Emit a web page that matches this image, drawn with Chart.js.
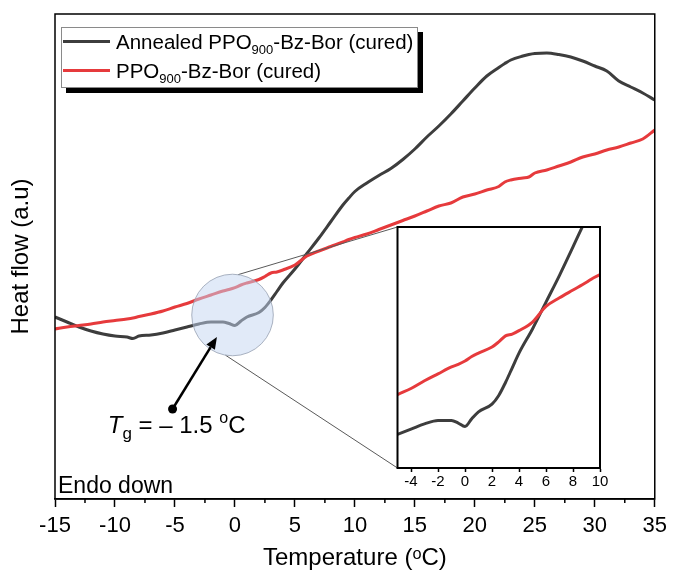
<!DOCTYPE html>
<html>
<head>
<meta charset="utf-8">
<script src="https://cdn.jsdelivr.net/npm/chart.js@4.4.1/dist/chart.umd.min.js"></script>
<style>
  html, body { margin: 0; padding: 0; background: #fff; }
  #wrap { position: relative; width: 673px; height: 573px; overflow: hidden; }
  #main { position: absolute; left: 0; top: 0; }
  #inset { position: absolute; left: 385px; top: 215px; }
</style>
</head>
<body>
<div id="wrap">
  <canvas id="main" width="673" height="573"></canvas>
  <canvas id="inset" width="227" height="285"></canvas>
</div>
<script>
// DSC heating traces, heat flow in arbitrary units
const temperature = [-15,-14,-13,-12,-11,-10,-9,-8.5,-8,-7,-6,-5,-4,-3,-2,-1,-0.5,0,0.5,1,2,2.5,3,3.5,4,5,6,7,8,9,9.5,10,11,12,13,14,15,16,17,18,19,20,21,22,22.5,23,24,24.5,25,26,27,28,29,30,31,32,33,34,35];
const annealedFlow = [18.2,17.7,17.2,16.8,16.5,16.3,16.2,16.05,16.3,16.4,16.6,16.9,17.2,17.5,17.7,17.7,17.55,17.35,17.8,18.2,18.65,19.15,19.9,20.75,21.6,23.0,24.55,26.1,27.75,29.4,30.1,30.75,31.6,32.35,33.05,33.95,35.0,36.2,37.3,38.5,39.8,41.1,42.3,43.15,43.55,43.9,44.3,44.45,44.55,44.6,44.45,44.2,43.8,43.3,42.8,41.8,41.2,40.6,39.9];
const curedFlow = [17.0,17.2,17.35,17.5,17.7,17.85,18.0,18.1,18.25,18.5,18.8,19.2,19.55,20.0,20.4,20.8,20.95,21.14,21.4,21.6,21.95,22.25,22.6,22.7,22.9,23.4,24.3,24.8,25.25,25.7,25.95,26.15,26.5,26.95,27.4,27.85,28.3,28.8,29.3,29.6,30.2,30.5,30.9,31.25,31.7,31.9,32.1,32.2,32.6,32.9,33.3,33.7,34.2,34.5,34.9,35.2,35.6,36.0,36.9];

// series names split as [before subscript, subscript, after subscript]
const annealedName = ['Annealed PPO', '900', '-Bz-Bor (cured)'];
const curedName = ['PPO', '900', '-Bz-Bor (cured)'];

const mainTicks = [-15, -10, -5, 0, 5, 10, 15, 20, 25, 30, 35];
const insetTicks = [-4, -2, 0, 2, 4, 6, 8, 10];

const tgValue = -1.5;   // glass transition, °C

const FONT = '"Liberation Sans", Arial, Helvetica, sans-serif';
const BLACK_LINE = '#3d3d3d';
const RED_LINE = '#e63a3c';

function buildDatasets() {
  return [
    {
      label: annealedName.join(''),
      data: temperature.map((t, i) => ({ x: t, y: annealedFlow[i] })),
      borderColor: BLACK_LINE, borderWidth: 3, pointRadius: 0,
      cubicInterpolationMode: 'monotone', fill: false, order: 1
    },
    {
      label: curedName.join(''),
      data: temperature.map((t, i) => ({ x: t, y: curedFlow[i] })),
      borderColor: RED_LINE, borderWidth: 3, pointRadius: 0,
      cubicInterpolationMode: 'monotone', fill: false, order: 0
    }
  ];
}

// ---------- inset (zoom on the glass transition) ----------
const insetFrame = {
  id: 'insetFrame',
  beforeDatasetsDraw(chart) {
    const { ctx, chartArea: a } = chart;
    ctx.save();
    ctx.fillStyle = '#fff';
    ctx.fillRect(a.left, a.top, a.right - a.left, a.bottom - a.top);
    ctx.restore();
  },
  afterDatasetsDraw(chart) {
    const { ctx, chartArea: a } = chart;
    ctx.save();
    ctx.strokeStyle = '#000';
    ctx.lineWidth = 2;
    ctx.strokeRect(a.left, a.top, a.right - a.left, a.bottom - a.top);
    ctx.restore();
  }
};

const insetCanvas = document.getElementById('inset');
const insetChart = new Chart(insetCanvas, {
  type: 'line',
  data: { datasets: buildDatasets() },
  plugins: [insetFrame],
  options: {
    responsive: false,
    animation: false,
    events: [],
    layout: { padding: { left: 12.5, right: 12, top: 12, bottom: 0 } },
    plugins: { legend: { display: false }, tooltip: { enabled: false } },
    scales: {
      x: {
        type: 'linear', min: -5, max: 10,
        afterBuildTicks: s => { s.ticks = insetTicks.map(v => ({ value: v })); },
        afterFit: s => { s.height = 32; },
        grid: { drawOnChartArea: false, drawTicks: true, tickLength: 4, tickWidth: 1.5, tickColor: '#000' },
        border: { display: true, color: '#000', width: 2 },
        ticks: { color: '#000', font: { family: FONT, size: 15 }, padding: 1, maxRotation: 0, autoSkip: false }
      },
      y: { display: false, min: 14.95, max: 28.9 }
    }
  }
});

// ---------- main chart ----------
function drawRich(ctx, parts, x, y) {
  // parts: [text, size, dy, italic]
  let cx = x;
  for (const [text, size, dy, italic] of parts) {
    ctx.font = (italic ? 'italic ' : '') + size + 'px ' + FONT;
    ctx.fillText(text, cx, y + dy);
    cx += ctx.measureText(text).width;
  }
  return cx;
}

const decorations = {
  id: 'decorations',
  beforeDraw(chart) {
    const { ctx, width, height } = chart;
    ctx.save();
    ctx.fillStyle = '#fff';
    ctx.fillRect(0, 0, width, height);
    ctx.restore();
  },
  afterDatasetsDraw(chart) {
    const { ctx, chartArea: a, scales: { x: xs, y: ys } } = chart;
    ctx.save();

    // frame
    ctx.strokeStyle = '#000';
    ctx.lineWidth = 1.5;
    ctx.strokeRect(a.left, a.top, a.right - a.left, a.bottom - a.top);

    // minor ticks
    ctx.lineWidth = 1.5;
    ctx.beginPath();
    for (let t = -12.5; t < 35; t += 5) {
      const px = xs.getPixelForValue(t);
      ctx.moveTo(px, a.bottom);
      ctx.lineTo(px, a.bottom + 4);
    }
    ctx.stroke();

    // highlighted region around the transition
    const cx = xs.getPixelForValue(-0.2);
    const cy = ys.getPixelForValue(18.4);
    const r = xs.getPixelForValue(3.4) - xs.getPixelForValue(0);

    // connector lines to the inset frame
    const ia = insetChart.chartArea;
    const ox = insetCanvas.offsetLeft, oy = insetCanvas.offsetTop;
    const a1 = -82 * Math.PI / 180, a2 = 100 * Math.PI / 180;
    ctx.strokeStyle = '#5a5a5a';
    ctx.lineWidth = 1;
    ctx.beginPath();
    ctx.moveTo(cx + r * Math.cos(a1), cy + r * Math.sin(a1));
    ctx.lineTo(ox + ia.left, oy + ia.top);
    ctx.moveTo(cx + r * Math.cos(a2), cy + r * Math.sin(a2));
    ctx.lineTo(ox + ia.left, oy + ia.bottom);
    ctx.stroke();

    ctx.beginPath();
    ctx.arc(cx, cy, r, 0, Math.PI * 2);
    ctx.fillStyle = 'rgba(196, 214, 242, 0.5)';
    ctx.fill();
    ctx.strokeStyle = 'rgba(150, 160, 178, 0.8)';
    ctx.lineWidth = 1;
    ctx.stroke();

    // Tg arrow
    const p0 = { x: xs.getPixelForValue(-5.2), y: ys.getPixelForValue(9.0) };
    const p1 = { x: xs.getPixelForValue(tgValue), y: ys.getPixelForValue(16.2) };
    const ang = Math.atan2(p1.y - p0.y, p1.x - p0.x);
    const head = 12, half = 5;
    const bx = p1.x - head * Math.cos(ang), by = p1.y - head * Math.sin(ang);
    ctx.strokeStyle = '#000';
    ctx.fillStyle = '#000';
    ctx.lineWidth = 2.5;
    ctx.beginPath();
    ctx.moveTo(p0.x, p0.y);
    ctx.lineTo(bx, by);
    ctx.stroke();
    ctx.beginPath();
    ctx.moveTo(p1.x, p1.y);
    ctx.lineTo(bx + half * Math.sin(ang), by - half * Math.cos(ang));
    ctx.lineTo(bx - half * Math.sin(ang), by + half * Math.cos(ang));
    ctx.closePath();
    ctx.fill();
    ctx.beginPath();
    ctx.arc(p0.x, p0.y, 4.5, 0, Math.PI * 2);
    ctx.fill();

    // Tg label
    ctx.textBaseline = 'alphabetic';
    ctx.textAlign = 'left';
    const lx = xs.getPixelForValue(-10.6), ly = ys.getPixelForValue(6.6);
    drawRich(ctx, [
      ['T', 24, 0, true],
      ['g', 17, 6, false],
      [' = \u2013 ' + Math.abs(tgValue) + ' ', 24, 0, false],
      ['o', 16, -10, false],
      ['C', 24, 0, false]
    ], lx, ly);

    // Endo direction
    ctx.font = '23px ' + FONT;
    ctx.fillText('Endo down', a.left + 3, a.bottom - 6);

    ctx.restore();
  },
  afterDraw(chart) {
    const { ctx, chartArea: a } = chart;
    ctx.save();
    const box = { x: a.left + 6, y: a.top + 13, w: 357, h: 61 };
    // drop shadow
    ctx.fillStyle = '#000';
    ctx.fillRect(box.x + 5, box.y + 5, box.w, box.h);
    ctx.fillStyle = '#fff';
    ctx.fillRect(box.x, box.y, box.w, box.h);
    ctx.strokeStyle = '#8a8a8a';
    ctx.lineWidth = 1;
    ctx.strokeRect(box.x + 0.5, box.y + 0.5, box.w - 1, box.h - 1);

    const rows = [
      { name: annealedName, color: BLACK_LINE, y: box.y + 14.5 },
      { name: curedName, color: RED_LINE, y: box.y + 43.5 }
    ];
    ctx.textBaseline = 'alphabetic';
    ctx.fillStyle = '#000';
    for (const row of rows) {
      ctx.strokeStyle = row.color;
      ctx.lineWidth = 3;
      ctx.beginPath();
      ctx.moveTo(box.x + 2, row.y);
      ctx.lineTo(box.x + 49, row.y);
      ctx.stroke();
      ctx.fillStyle = '#000';
      drawRich(ctx, [
        [row.name[0], 20.5, 0, false],
        [row.name[1], 13, 5, false],
        [row.name[2], 20.5, 0, false]
      ], box.x + 55, row.y + 7);
    }
    ctx.restore();
  }
};

new Chart(document.getElementById('main'), {
  type: 'line',
  data: { datasets: buildDatasets() },
  plugins: [decorations],
  options: {
    responsive: false,
    animation: false,
    events: [],
    layout: { padding: { left: 0, right: 18, top: 14, bottom: 0 } },
    plugins: { legend: { display: false }, tooltip: { enabled: false } },
    scales: {
      x: {
        type: 'linear', min: -15, max: 35,
        afterBuildTicks: s => { s.ticks = mainTicks.map(v => ({ value: v })); },
        afterFit: s => { s.height = 74; },
        grid: { drawOnChartArea: false, drawTicks: true, tickLength: 8, tickWidth: 1.5, tickColor: '#000' },
        border: { display: true, color: '#000', width: 1.5 },
        ticks: { color: '#000', font: { family: FONT, size: 22 }, padding: 6, maxRotation: 0, autoSkip: false },
        title: { display: true, text: 'Temperature (\u1D52C)', color: '#000', font: { family: FONT, size: 24 }, padding: { top: 0, bottom: 0 } }
      },
      y: {
        min: 0, max: 48.5,
        afterFit: s => { s.width = 55; },
        grid: { display: false },
        border: { display: false },
        ticks: { display: false },
        title: { display: true, text: 'Heat flow (a.u)', color: '#000', font: { family: FONT, size: 24 }, padding: { top: 7, bottom: 0 } }
      }
    }
  }
});
</script>
</body>
</html>
